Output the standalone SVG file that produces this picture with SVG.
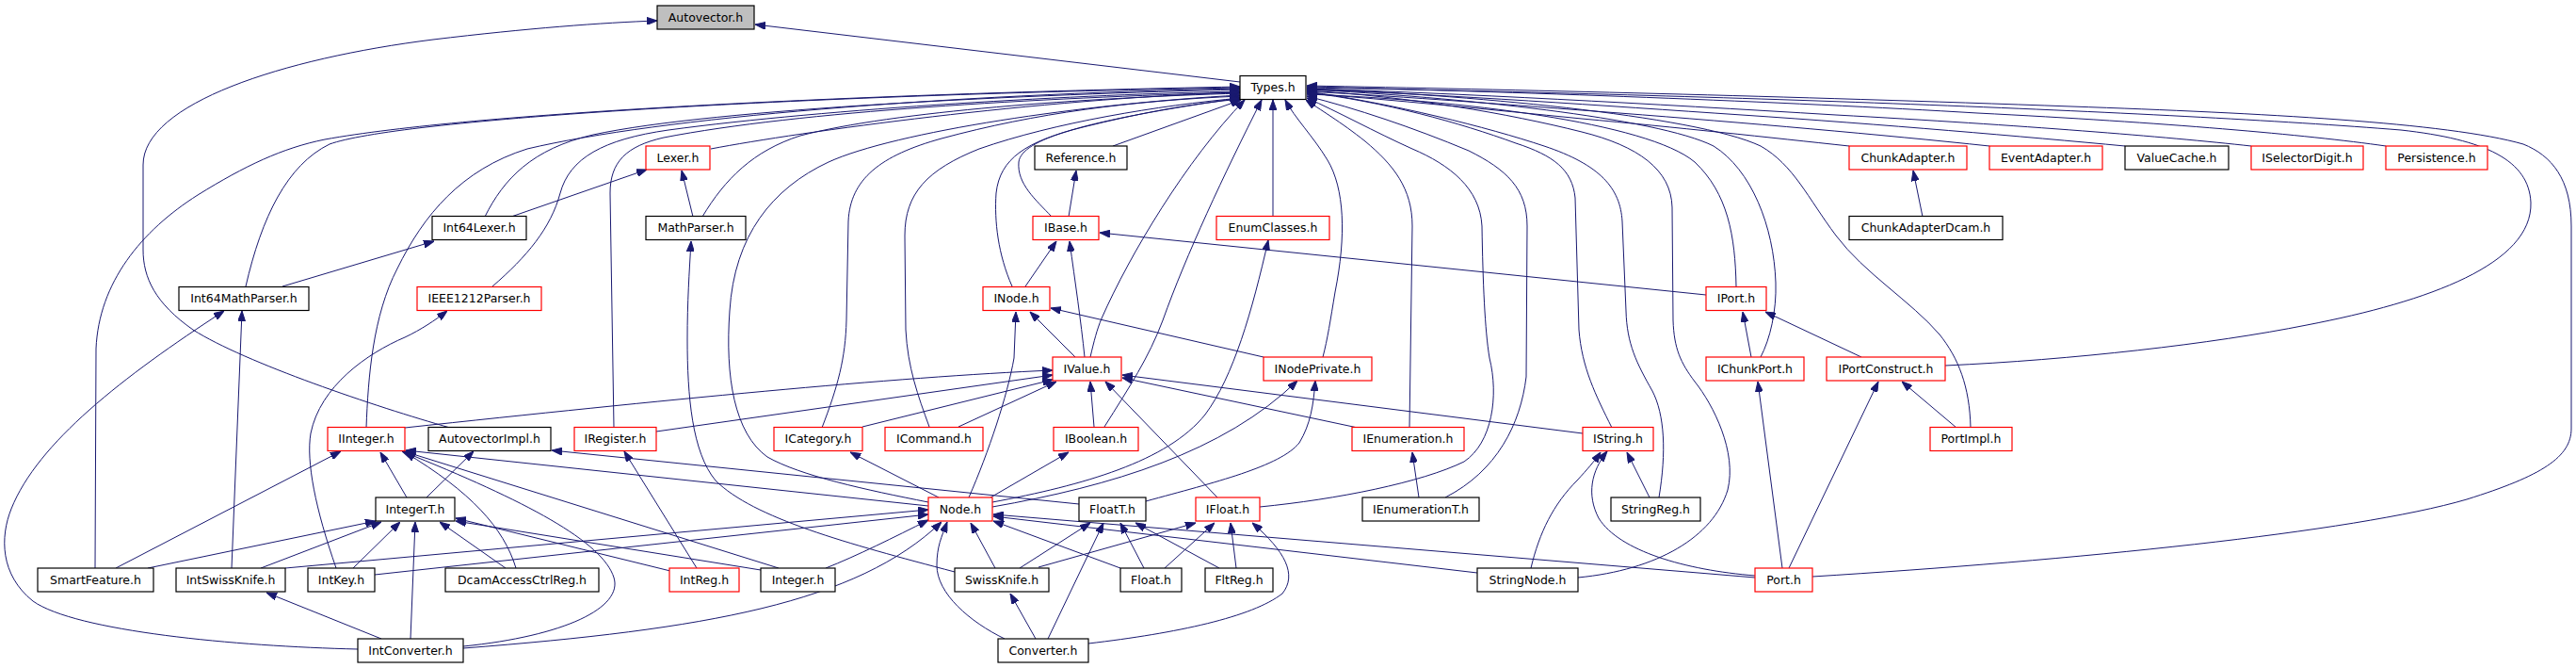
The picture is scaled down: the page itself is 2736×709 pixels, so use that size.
<svg xmlns="http://www.w3.org/2000/svg" width="2736" height="709" viewBox="0 0 2736 709">
<style>
.k rect{fill:#fff;stroke:#000;stroke-width:1.2}
.r rect{fill:#fff;stroke:#f00;stroke-width:1.2}
.g rect{fill:#bfbfbf;stroke:#000;stroke-width:1.2}
text{font-family:"DejaVu Sans",sans-serif;font-size:12.5px;text-anchor:middle;fill:#000}
#edges path{fill:none;stroke:#191970;stroke-width:1;marker-end:url(#a)}
</style>
<defs>
<marker id="a" markerWidth="11" markerHeight="8" refX="11" refY="4" orient="auto" markerUnits="userSpaceOnUse"><path d="M0,0 L11,4 L0,8 z" fill="#191970" stroke="#191970" stroke-width="1"/></marker>
</defs>
<rect width="2736" height="709" fill="#fff"/>
<g id="edges">
<path d="M1317,87 L802,26"/>
<path d="M478,454 C400,432 260,385 205,350 C165,322 152,295 152,265 L152,175 C152,110 300,62 460,42 C560,30 640,24 698,22"/>
<path d="M755,158 C850,140 1100,105 1317,98"/>
<path d="M515,230 C535,190 565,158 630,143 C760,115 1100,100 1317,95"/>
<path d="M746,230 C770,190 800,160 850,144 C950,118 1150,104 1317,99"/>
<path d="M736,230 L724,181"/>
<path d="M543,230 L687,180"/>
<path d="M261,304 C278,230 305,175 350,153 C420,128 800,102 1317,93"/>
<path d="M300,304 L461,256"/>
<path d="M523,304 C560,272 585,242 595,205 C605,168 640,148 710,138 C880,115 1150,100 1317,97"/>
<path d="M389,454 C391,400 396,335 422,285 C450,228 490,180 560,158 C700,125 1000,100 1317,94"/>
<path d="M101,603 L102,370 C105,300 150,245 210,207 C260,176 300,157 345,148 C500,120 900,100 1317,92"/>
<path d="M123,603 L362,479"/>
<path d="M157,603 L399,553"/>
<path d="M246,603 L257,330"/>
<path d="M277,603 L405,554"/>
<path d="M303,603 L986,541"/>
<path d="M357,603 C335,540 325,490 330,460 C340,410 390,375 430,358 C447,350 462,340 475,330"/>
<path d="M375,603 L425,554"/>
<path d="M398,610 L986,546"/>
<path d="M380,689 C250,686 80,670 35,638 C0,610 0,570 12,540 C40,470 130,400 238,330"/>
<path d="M436,678 L441,554"/>
<path d="M405,678 L283,629"/>
<path d="M492,686 C600,675 662,645 652,613 C640,575 560,532 427,479"/>
<path d="M492,688 C750,668 910,640 1000,554"/>
<path d="M432,528 L404,480"/>
<path d="M453,528 L503,479"/>
<path d="M537,603 L467,554"/>
<path d="M548,603 C535,560 500,522 430,480"/>
<path d="M712,606 L484,550"/>
<path d="M740,603 L663,479"/>
<path d="M808,605 L484,553"/>
<path d="M827,603 L429,479"/>
<path d="M877,603 C910,590 950,570 986,552"/>
<path d="M986,537 L431,478"/>
<path d="M986,533 C920,520 850,505 815,485 C780,460 770,400 775,330 C780,250 820,200 880,172 C950,140 1150,110 1317,101"/>
<path d="M652,454 L648,205 C648,172 665,155 705,146 C850,118 1100,104 1317,98"/>
<path d="M697,458 L1118,398"/>
<path d="M430,454 C700,425 950,400 1118,393"/>
<path d="M916,453 L1118,403"/>
<path d="M873,454 C890,410 898,380 899,340 L901,235 C903,190 935,165 1000,147 C1100,120 1200,107 1317,102"/>
<path d="M1018,453 L1122,405"/>
<path d="M987,453 C975,420 964,390 962,350 L961,250 C961,205 985,180 1040,158 C1120,130 1230,112 1318,104"/>
<path d="M1162,453 L1158,405"/>
<path d="M1173,453 C1200,410 1220,380 1235,340 C1260,270 1300,185 1340,106"/>
<path d="M1158,379 C1162,362 1165,350 1170,338 C1200,270 1260,170 1322,106"/>
<path d="M1152,379 C1148,340 1142,300 1136,256"/>
<path d="M1142,379 L1094,331"/>
<path d="M1089,304 L1122,256"/>
<path d="M1075,304 C1060,270 1056,235 1058,205 C1062,168 1090,150 1150,135 C1210,120 1265,110 1318,105"/>
<path d="M1117,230 C1100,212 1080,195 1082,172 C1085,148 1150,128 1317,104"/>
<path d="M1135,230 L1143,181"/>
<path d="M1182,155 L1318,106"/>
<path d="M1812,313 L1168,247"/>
<path d="M1844,304 C1843,250 1835,205 1800,172 C1750,130 1550,106 1388,100"/>
<path d="M1352,230 L1352,106"/>
<path d="M1054,533 C1150,515 1240,490 1280,440 C1310,400 1330,330 1347,255"/>
<path d="M1054,538 C1180,516 1300,480 1378,404"/>
<path d="M1217,532 C1290,512 1360,495 1380,470 C1392,450 1395,430 1397,404"/>
<path d="M1146,535 L586,478"/>
<path d="M1342,379 L1116,327"/>
<path d="M1405,379 C1410,360 1413,340 1418,310 C1430,250 1428,200 1410,170 C1395,145 1375,125 1365,106"/>
<path d="M1029,528 C1050,480 1070,420 1077,380 L1079,331"/>
<path d="M1052,528 L1135,480"/>
<path d="M997,528 L903,480"/>
<path d="M1014,607 C900,577 800,550 760,510 C735,480 730,420 730,360 C730,320 732,290 734,256"/>
<path d="M1057,603 L1031,555"/>
<path d="M1083,603 L1158,555"/>
<path d="M1103,602 L1270,555"/>
<path d="M1067,678 C1030,660 995,630 995,600 C995,580 1000,570 1006,554"/>
<path d="M1100,678 L1073,630"/>
<path d="M1113,678 L1172,555"/>
<path d="M1156,683 C1250,672 1330,655 1362,630 C1378,610 1365,585 1330,555"/>
<path d="M1190,603 L1055,553"/>
<path d="M1215,603 L1190,555"/>
<path d="M1237,603 L1290,555"/>
<path d="M1295,603 L1206,555"/>
<path d="M1313,603 L1307,555"/>
<path d="M1864,613 L1055,546"/>
<path d="M1569,608 L1055,548"/>
<path d="M1864,611 C1790,605 1720,585 1698,550 C1685,525 1690,500 1707,479"/>
<path d="M1626,603 C1635,565 1650,535 1675,510 C1686,498 1693,490 1700,480"/>
<path d="M1676,613 C1760,605 1820,570 1835,520 C1845,480 1820,430 1800,405 C1785,385 1778,370 1777,340 L1776,220 C1775,180 1740,155 1680,140 C1600,120 1500,103 1388,96"/>
<path d="M1752,528 L1728,480"/>
<path d="M1762,528 C1770,480 1768,440 1755,415 C1738,385 1728,365 1727,330 L1723,235 C1721,200 1700,175 1640,155 C1580,135 1480,110 1388,97"/>
<path d="M1712,454 C1695,420 1680,390 1677,350 L1673,210 C1670,180 1650,165 1610,152 C1550,130 1470,108 1388,98"/>
<path d="M1681,460 L1192,398"/>
<path d="M1442,454 L1192,401"/>
<path d="M1497,454 L1500,240 C1500,200 1480,175 1450,150 C1425,130 1400,115 1387,106"/>
<path d="M1507,528 L1500,480"/>
<path d="M1535,528 C1590,500 1615,450 1621,400 L1622,240 C1622,200 1600,180 1560,160 C1500,135 1440,115 1388,102"/>
<path d="M1338,538 C1420,530 1510,512 1555,490 C1585,470 1592,420 1582,380 C1577,350 1575,300 1574,240 C1572,200 1540,175 1500,158 C1460,140 1420,118 1388,104"/>
<path d="M1293,528 L1174,405"/>
<path d="M1860,379 L1851,331"/>
<path d="M1870,379 C1880,360 1887,330 1886,300 C1884,240 1860,180 1820,155 C1760,125 1550,103 1388,95"/>
<path d="M2093,454 C2092,410 2080,380 2060,355 C2030,320 1980,290 1950,250 C1920,210 1905,175 1870,155 C1800,122 1550,100 1388,94"/>
<path d="M2078,454 L2020,405"/>
<path d="M1977,379 L1875,331"/>
<path d="M2066,388 C2200,382 2350,365 2450,345 C2580,320 2690,280 2688,215 C2686,170 2640,148 2550,138 C2300,118 1800,100 1388,93"/>
<path d="M1925,612 C2200,595 2500,565 2620,530 C2700,505 2731,485 2731,455 L2731,240 C2731,190 2710,165 2680,153 C2600,130 2400,120 2200,113 C1900,102 1600,95 1388,91"/>
<path d="M2534,155 C2450,143 2300,130 2100,120 C1900,108 1600,97 1388,92"/>
<path d="M2391,155 C2300,145 2150,133 1950,122 C1750,110 1550,99 1388,94"/>
<path d="M2257,155 C2150,145 2000,132 1850,122 C1700,112 1550,101 1388,95"/>
<path d="M2113,155 C2000,143 1850,130 1720,120 C1600,111 1500,103 1388,97"/>
<path d="M1964,155 C1880,146 1780,135 1680,126 C1580,116 1480,106 1388,99"/>
<path d="M2042,230 L2032,181"/>
<path d="M1893,603 L1867,405"/>
<path d="M1900,603 L1995,405"/>
</g>
<g id="n-Autovector" class="g"><rect x="698" y="6" width="103" height="25"/><text x="749.5" y="22.5">Autovector.h</text></g>
<g id="n-Types" class="k"><rect x="1317" y="80.5" width="70" height="25"/><text x="1352" y="97">Types.h</text></g>
<g id="n-Lexer" class="r"><rect x="686" y="155" width="68" height="25"/><text x="720" y="171.5">Lexer.h</text></g>
<g id="n-Reference" class="k"><rect x="1099" y="155" width="98" height="25"/><text x="1148" y="171.5">Reference.h</text></g>
<g id="n-ChunkAdapter" class="r"><rect x="1964" y="155" width="125" height="25"/><text x="2026.5" y="171.5">ChunkAdapter.h</text></g>
<g id="n-EventAdapter" class="r"><rect x="2113" y="155" width="120" height="25"/><text x="2173" y="171.5">EventAdapter.h</text></g>
<g id="n-ValueCache" class="k"><rect x="2257" y="155" width="110" height="25"/><text x="2312" y="171.5">ValueCache.h</text></g>
<g id="n-ISelectorDigit" class="r"><rect x="2391" y="155" width="119" height="25"/><text x="2450.5" y="171.5">ISelectorDigit.h</text></g>
<g id="n-Persistence" class="r"><rect x="2534" y="155" width="108" height="25"/><text x="2588" y="171.5">Persistence.h</text></g>
<g id="n-Int64Lexer" class="k"><rect x="459" y="229.5" width="100" height="25"/><text x="509" y="246">Int64Lexer.h</text></g>
<g id="n-MathParser" class="k"><rect x="686" y="229.5" width="106" height="25"/><text x="739" y="246">MathParser.h</text></g>
<g id="n-IBase" class="r"><rect x="1097" y="229.5" width="70" height="25"/><text x="1132" y="246">IBase.h</text></g>
<g id="n-EnumClasses" class="r"><rect x="1292" y="229.5" width="120" height="25"/><text x="1352" y="246">EnumClasses.h</text></g>
<g id="n-ChunkAdapterDcam" class="k"><rect x="1964" y="229.5" width="163" height="25"/><text x="2045.5" y="246">ChunkAdapterDcam.h</text></g>
<g id="n-Int64MathParser" class="k"><rect x="190" y="304.5" width="138" height="25"/><text x="259" y="321">Int64MathParser.h</text></g>
<g id="n-IEEE1212Parser" class="r"><rect x="443" y="304.5" width="132" height="25"/><text x="509" y="321">IEEE1212Parser.h</text></g>
<g id="n-INode" class="r"><rect x="1044" y="304.5" width="71" height="25"/><text x="1079.5" y="321">INode.h</text></g>
<g id="n-IPort" class="r"><rect x="1812" y="304.5" width="64" height="25"/><text x="1844" y="321">IPort.h</text></g>
<g id="n-IValue" class="r"><rect x="1118" y="379" width="73" height="25"/><text x="1154.5" y="395.5">IValue.h</text></g>
<g id="n-INodePrivate" class="r"><rect x="1342" y="379" width="115" height="25"/><text x="1399.5" y="395.5">INodePrivate.h</text></g>
<g id="n-IChunkPort" class="r"><rect x="1812" y="379" width="104" height="25"/><text x="1864" y="395.5">IChunkPort.h</text></g>
<g id="n-IPortConstruct" class="r"><rect x="1940" y="379" width="126" height="25"/><text x="2003" y="395.5">IPortConstruct.h</text></g>
<g id="n-IInteger" class="r"><rect x="348" y="453.5" width="82" height="25"/><text x="389" y="470">IInteger.h</text></g>
<g id="n-AutovectorImpl" class="k"><rect x="455" y="453.5" width="130" height="25"/><text x="520" y="470">AutovectorImpl.h</text></g>
<g id="n-IRegister" class="r"><rect x="610" y="453.5" width="87" height="25"/><text x="653.5" y="470">IRegister.h</text></g>
<g id="n-ICategory" class="r"><rect x="822" y="453.5" width="94" height="25"/><text x="869" y="470">ICategory.h</text></g>
<g id="n-ICommand" class="r"><rect x="940" y="453.5" width="104" height="25"/><text x="992" y="470">ICommand.h</text></g>
<g id="n-IBoolean" class="r"><rect x="1119" y="453.5" width="90" height="25"/><text x="1164" y="470">IBoolean.h</text></g>
<g id="n-IEnumeration" class="r"><rect x="1436" y="453.5" width="119" height="25"/><text x="1495.5" y="470">IEnumeration.h</text></g>
<g id="n-IString" class="r"><rect x="1681" y="453.5" width="75" height="25"/><text x="1718.5" y="470">IString.h</text></g>
<g id="n-PortImpl" class="r"><rect x="2050" y="453.5" width="87" height="25"/><text x="2093.5" y="470">PortImpl.h</text></g>
<g id="n-IntegerT" class="k"><rect x="399" y="528" width="84" height="25"/><text x="441" y="544.5">IntegerT.h</text></g>
<g id="n-Node" class="r"><rect x="986" y="528" width="68" height="25"/><text x="1020" y="544.5">Node.h</text></g>
<g id="n-FloatT" class="k"><rect x="1146" y="528" width="71" height="25"/><text x="1181.5" y="544.5">FloatT.h</text></g>
<g id="n-IFloat" class="r"><rect x="1270" y="528" width="68" height="25"/><text x="1304" y="544.5">IFloat.h</text></g>
<g id="n-IEnumerationT" class="k"><rect x="1447" y="528" width="124" height="25"/><text x="1509" y="544.5">IEnumerationT.h</text></g>
<g id="n-StringReg" class="k"><rect x="1711" y="528" width="95" height="25"/><text x="1758.5" y="544.5">StringReg.h</text></g>
<g id="n-SmartFeature" class="k"><rect x="40" y="603" width="123" height="25"/><text x="101.5" y="619.5">SmartFeature.h</text></g>
<g id="n-IntSwissKnife" class="k"><rect x="187" y="603" width="116" height="25"/><text x="245" y="619.5">IntSwissKnife.h</text></g>
<g id="n-IntKey" class="k"><rect x="327" y="603" width="71" height="25"/><text x="362.5" y="619.5">IntKey.h</text></g>
<g id="n-DcamAccessCtrlReg" class="k"><rect x="473" y="603" width="163" height="25"/><text x="554.5" y="619.5">DcamAccessCtrlReg.h</text></g>
<g id="n-IntReg" class="r"><rect x="711" y="603" width="74" height="25"/><text x="748" y="619.5">IntReg.h</text></g>
<g id="n-Integer" class="k"><rect x="808" y="603" width="79" height="25"/><text x="847.5" y="619.5">Integer.h</text></g>
<g id="n-SwissKnife" class="k"><rect x="1014" y="603" width="100" height="25"/><text x="1064" y="619.5">SwissKnife.h</text></g>
<g id="n-Float" class="k"><rect x="1190" y="603" width="65" height="25"/><text x="1222.5" y="619.5">Float.h</text></g>
<g id="n-FltReg" class="k"><rect x="1280" y="603" width="72" height="25"/><text x="1316" y="619.5">FltReg.h</text></g>
<g id="n-StringNode" class="k"><rect x="1569" y="603" width="107" height="25"/><text x="1622.5" y="619.5">StringNode.h</text></g>
<g id="n-Port" class="r"><rect x="1864" y="603" width="61" height="25"/><text x="1894.5" y="619.5">Port.h</text></g>
<g id="n-IntConverter" class="k"><rect x="380" y="678" width="112" height="25"/><text x="436" y="694.5">IntConverter.h</text></g>
<g id="n-Converter" class="k"><rect x="1060" y="678" width="96" height="25"/><text x="1108" y="694.5">Converter.h</text></g>
</svg>
